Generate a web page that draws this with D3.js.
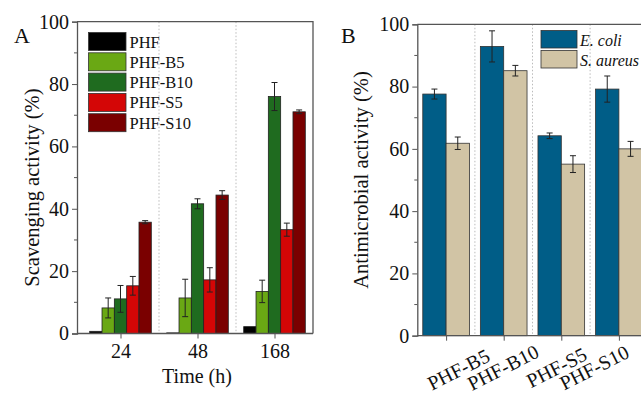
<!DOCTYPE html>
<html lang="en">
<head>
<meta charset="UTF-8">
<title>Scavenging and antimicrobial activity</title>
<script src="https://cdn.jsdelivr.net/npm/d3@7"></script>
<style>
  body { margin: 0; background: #fff; }
  svg text { font-family: "Liberation Serif", "Times New Roman", serif; fill: #111; }
</style>
</head>
<body>
<div id="chart"></div>
<script>
// ---- panel A data ----
const times = ["24", "48", "168"];
const samplesA = ["PHF", "PHF-B5", "PHF-B10", "PHF-S5", "PHF-S10"];
const colorsA = ["#000000", "#6aa814", "#1f6b1f", "#d40606", "#7a0000"];
// scavenging activity per sample, one value per time
const scavMean = [
  [0.7, 0.2, 2.2],
  [8.2, 11.4, 13.5],
  [11.1, 41.6, 76.0],
  [15.3, 17.2, 33.3],
  [35.7, 44.4, 71.1]
];
const scavErr = [
  [0, 0, 0],
  [3.2, 6.0, 3.6],
  [4.3, 1.6, 4.5],
  [3.0, 3.9, 2.1],
  [0.5, 1.4, 0.6]
];

// ---- panel B data ----
const samplesB = ["PHF-B5", "PHF-B10", "PHF-S5", "PHF-S10"];
const bacteria = ["E. coli", "S. aureus"];
const colorsB = ["#005d87", "#d1c4a5"];
const antiMean = [
  [77.6, 92.9, 64.2, 79.2],
  [61.8, 85.1, 55.1, 60.0]
];
const antiErr = [
  [1.6, 5.0, 0.9, 4.2],
  [2.0, 1.7, 2.7, 2.4]
];

const W = 641, H = 395;
const svg = d3.select("#chart").append("svg")
  .attr("width", W).attr("height", H);

// helper for the y axis with minor ticks
function drawYAxis(g, y, x0) {
  g.attr("transform", `translate(${x0},0)`)
    .call(d3.axisLeft(y).tickValues(d3.range(0, 101, 20)).tickSize(5).tickPadding(3))
    .call(g => g.select(".domain").attr("stroke", "#555").attr("stroke-width", 1.3))
    .call(g => g.selectAll(".tick line").attr("stroke", "#555"))
    .call(g => g.selectAll(".tick text").attr("font-size", 20));
  g.selectAll(".minor").data(d3.range(10, 100, 20)).join("line")
    .attr("class", "minor")
    .attr("x1", 0).attr("x2", -3)
    .attr("y1", d => y(d)).attr("y2", d => y(d))
    .attr("stroke", "#555");
}

function errorBar(g, cx, yTop, yBot) {
  g.append("line").attr("x1", cx).attr("x2", cx).attr("y1", yTop).attr("y2", yBot);
  g.append("line").attr("x1", cx - 3).attr("x2", cx + 3).attr("y1", yTop).attr("y2", yTop);
  g.append("line").attr("x1", cx - 3).attr("x2", cx + 3).attr("y1", yBot).attr("y2", yBot);
}

// ================= Panel A =================
{
  const left = 77, right = 313, top = 21.7, bottom = 333.5;
  const x = d3.scaleLinear().domain([-0.565, 2.5]).range([left, right]);
  const y = d3.scaleLinear().domain([0, 100]).range([bottom, top]);
  const bw = 0.16;
  const g = svg.append("g");

  // dotted separators
  g.selectAll(".sep").data([0.5, 1.5]).join("line")
    .attr("x1", d => x(d)).attr("x2", d => x(d))
    .attr("y1", top).attr("y2", bottom)
    .attr("stroke", "#bbb").attr("stroke-dasharray", "1.5,2");

  samplesA.forEach((s, i) => {
    const off = (i - 2) * bw;
    g.append("g").selectAll("rect").data(scavMean[i]).join("rect")
      .attr("x", (d, j) => x(j + off - bw / 2))
      .attr("width", x(bw) - x(0))
      .attr("y", d => y(d))
      .attr("height", d => y(0) - y(d))
      .attr("fill", colorsA[i])
      .attr("stroke", "#222").attr("stroke-width", 0.8);

    const eb = g.append("g").attr("stroke", "#222").attr("stroke-width", 1);
    scavMean[i].forEach((m, j) => {
      const e = scavErr[i][j];
      if (!e) return;
      errorBar(eb, x(j + off), y(m + e), y(m - e));
    });
  });

  // frame
  g.append("path")
    .attr("d", `M${left},${top}H${right}V${bottom}`)
    .attr("fill", "none").attr("stroke", "#555").attr("stroke-width", 1.3);

  // x axis
  g.append("g").attr("transform", `translate(0,${bottom})`)
    .call(d3.axisBottom(x).tickValues([0, 1, 2]).tickFormat((d, i) => times[i]).tickSize(5).tickPadding(5))
    .call(g => g.select(".domain").attr("d", `M${left},0H${right}`).attr("stroke", "#555").attr("stroke-width", 1.3))
    .call(g => g.selectAll(".tick line").attr("stroke", "#555"))
    .call(g => g.selectAll(".tick text").attr("font-size", 20));

  drawYAxis(g.append("g"), y, left);

  g.append("text").attr("x", (left + right) / 2 + 2).attr("y", 383)
    .attr("text-anchor", "middle").attr("font-size", 20).text("Time (h)");
  g.append("text").attr("transform", `translate(39,${(top + bottom) / 2 + 10}) rotate(-90)`)
    .attr("text-anchor", "middle").attr("font-size", 20.5).text("Scavenging activity (%)");
  g.append("text").attr("x", 14).attr("y", 43).attr("font-size", 22).text("A");

  // legend
  const lg = g.append("g").attr("transform", "translate(88.5,32.5)");
  samplesA.forEach((s, i) => {
    lg.append("rect").attr("x", 0).attr("y", i * 20.3).attr("width", 37.5).attr("height", 18)
      .attr("fill", colorsA[i]).attr("stroke", "#333").attr("stroke-width", 0.8);
    lg.append("text").attr("x", 41).attr("y", i * 20.3 + 15).attr("font-size", 16.5).text(s);
  });
}

// ================= Panel B =================
{
  const left = 417.3, right = 647.7, top = 24.3, bottom = 335.7;
  const x = d3.scaleLinear().domain([-0.5, 3.5]).range([left, right]);
  const y = d3.scaleLinear().domain([0, 100]).range([bottom, top]);
  const bw = 0.405;
  const g = svg.append("g");

  g.selectAll(".sep").data([0.5, 1.5, 2.5]).join("line")
    .attr("x1", d => x(d)).attr("x2", d => x(d))
    .attr("y1", top).attr("y2", bottom)
    .attr("stroke", "#bbb").attr("stroke-dasharray", "1.5,2");

  bacteria.forEach((b, i) => {
    const off = (i - 0.5) * bw;
    g.append("g").selectAll("rect").data(antiMean[i]).join("rect")
      .attr("x", (d, j) => x(j + off - bw / 2))
      .attr("width", x(bw) - x(0))
      .attr("y", d => y(d))
      .attr("height", d => y(0) - y(d))
      .attr("fill", colorsB[i])
      .attr("stroke", "#333").attr("stroke-width", 0.8);

    const eb = g.append("g").attr("stroke", "#222").attr("stroke-width", 1);
    antiMean[i].forEach((m, j) => {
      const e = antiErr[i][j];
      errorBar(eb, x(j + off), y(m + e), y(m - e));
    });
  });

  g.append("path")
    .attr("d", `M${left},${top}H${right}V${bottom}`)
    .attr("fill", "none").attr("stroke", "#555").attr("stroke-width", 1.3);

  // labels were hand-placed in the original, nudge them the same way
  const labelShift = [15, 2, -2, -22];
  const xa = g.append("g").attr("transform", `translate(0,${bottom})`)
    .call(d3.axisBottom(x).tickValues([0, 1, 2, 3]).tickFormat((d, i) => samplesB[i]).tickSize(5))
    .call(g => g.select(".domain").attr("d", `M${left},0H${right}`).attr("stroke", "#555").attr("stroke-width", 1.3))
    .call(g => g.selectAll(".tick line").attr("stroke", "#555"));
  xa.selectAll(".tick text")
    .attr("font-size", 20).attr("text-anchor", "middle")
    .attr("y", 0).attr("dy", 0)
    .attr("transform", (d, i) => `translate(${labelShift[i]},${i === 0 ? 40 : 38}) rotate(-27)`);

  drawYAxis(g.append("g"), y, left);

  g.append("text").attr("transform", `translate(368,${(top + bottom) / 2}) rotate(-90)`)
    .attr("text-anchor", "middle").attr("font-size", 20.5).text("Antimicrobial activity (%)");
  g.append("text").attr("x", 341).attr("y", 43).attr("font-size", 22).text("B");

  const lg = g.append("g").attr("transform", "translate(541,30.5)");
  bacteria.forEach((b, i) => {
    lg.append("rect").attr("x", 0).attr("y", i * 20).attr("width", 36).attr("height", 17.5)
      .attr("fill", colorsB[i]).attr("stroke", "#333").attr("stroke-width", 0.8);
    lg.append("text").attr("x", 39).attr("y", i * 20 + 15).attr("font-size", 16)
      .attr("font-style", "italic").text(b);
  });
}
</script>
</body>
</html>
